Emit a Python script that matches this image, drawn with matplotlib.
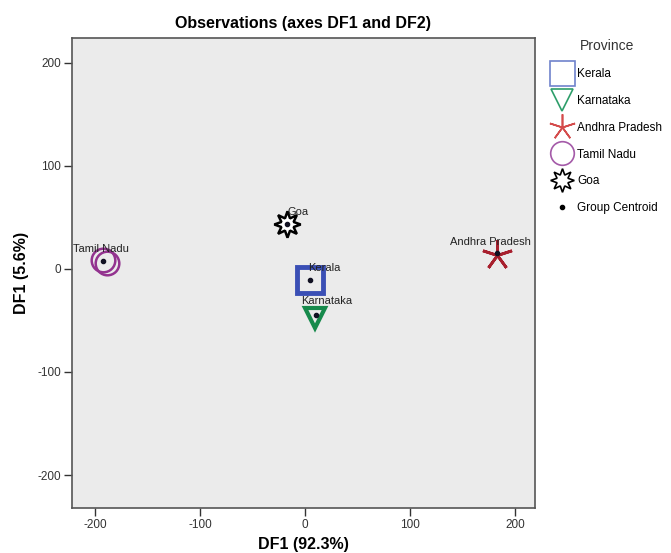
import matplotlib.pyplot as plt
from matplotlib.lines import Line2D

plt.rcParams['font.family'] = ['Liberation Sans', 'DejaVu Sans']
plt.rcParams['axes.unicode_minus'] = False

# Discriminant scores per province (DF1, DF2)
provinces = ['Kerala', 'Karnataka', 'Andhra Pradesh', 'Tamil Nadu', 'Goa']
obs_x = {
    'Kerala': [5],
    'Karnataka': [9],
    'Andhra Pradesh': [183],
    'Tamil Nadu': [-192, -189],
    'Goa': [-17],
}
obs_y = {
    'Kerala': [-11],
    'Karnataka': [-48],
    'Andhra Pradesh': [14],
    'Tamil Nadu': [9, 6],
    'Goa': [44],
}
centroid_x = [5, 10, 183, -192, -17]
centroid_y = [-11, -45, 15, 8, 44]

x_ticks = [-200, -100, 0, 100, 200]
y_ticks = [-200, -100, 0, 100, 200]

markers = {
    'Kerala': dict(marker='s', ms=19, mec='#3a4fb5', mfc='none', mew=3.5),
    'Karnataka': dict(marker='v', ms=15, mec='#178a4c', mfc='none', mew=3),
    'Andhra Pradesh': dict(marker=(5, 2, 0), ms=22, mec='#a8202e', mfc='none', mew=2),
    'Tamil Nadu': dict(marker='o', ms=17, mec='#93338f', mfc='none', mew=1.8),
    'Goa': dict(marker=(8, 1, 0), ms=19, mec='black', mfc='white', mew=1.8),
}
legend_style = {
    'Kerala': dict(marker='s', ms=18, mec='#7083cc', mfc='none', mew=1.2),
    'Karnataka': dict(marker='v', ms=16, mec='#2e9e6a', mfc='none', mew=1.2),
    'Andhra Pradesh': dict(marker=(5, 2, 0), ms=19, mec='#d44b4b', mfc='none', mew=1.2),
    'Tamil Nadu': dict(marker='o', ms=17, mec='#a45aa8', mfc='none', mew=1.2),
    'Goa': dict(marker=(8, 1, 0), ms=17, mec='black', mfc='white', mew=1.2),
}
# label offsets (points) relative to centroid
label_offsets = {
    'Kerala': (10, 5),
    'Karnataka': (8, 7),
    'Andhra Pradesh': (-5, 5),
    'Tamil Nadu': (-2, 5),
    'Goa': (8, 5),
}

fig = plt.figure(figsize=(6.71, 5.53), dpi=100)
ax = fig.add_axes([0.1073, 0.0814, 0.6900, 0.8496])
ax.set_facecolor('#ebebeb')

for p in provinces:
    ax.plot(obs_x[p], obs_y[p], ls='none', **markers[p], zorder=3)

ax.plot(centroid_x, centroid_y, ls='none', marker='o', ms=3, color='#111122', zorder=4)
for p, cx, cy in zip(provinces, centroid_x, centroid_y):
    dx, dy = label_offsets[p]
    ax.annotate(p, (cx, cy), xytext=(dx, dy), textcoords='offset points',
                ha='center', va='bottom', fontsize=8, color='#222222', zorder=5)

ax.set_xlim(-222, 219)
ax.set_ylim(-232, 224)
ax.set_xticks(x_ticks)
ax.set_yticks(y_ticks)
ax.tick_params(direction='out', length=6, width=1, colors='#333333', labelsize=8.5,
               labelcolor='#333333', pad=2)
for s in ax.spines.values():
    s.set_color('#555555')
    s.set_linewidth(1.2)

ax.set_title('Observations (axes DF1 and DF2)', fontsize=11.5, fontweight='bold', pad=7)
ax.set_xlabel('DF1 (92.3%)', fontsize=11.5, fontweight='bold', labelpad=4)
ax.set_ylabel('DF1 (5.6%)', fontsize=11.5, fontweight='bold', labelpad=6)

handles = [Line2D([], [], ls='none', **legend_style[p]) for p in provinces]
handles.append(Line2D([], [], ls='none', marker='o', ms=3, color='black'))
labels = provinces + ['Group Centroid']
leg = fig.legend(handles, labels, title='Province', loc='upper left',
                 bbox_to_anchor=(0.815, 0.938), frameon=False, fontsize=8.5,
                 title_fontsize=10, handletextpad=0.35, labelspacing=1.26,
                 handlelength=1.8, borderaxespad=0)
leg.get_title().set_color('#333333')

fig.savefig('out.png', dpi=100)
